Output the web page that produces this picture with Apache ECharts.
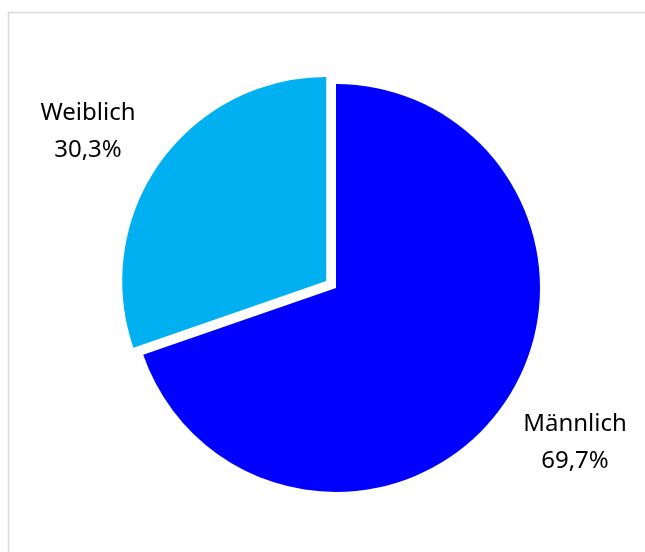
<!DOCTYPE html>
<html>
<head>
<meta charset="utf-8">
<script src="https://cdn.jsdelivr.net/npm/echarts@6/dist/echarts.min.js"></script>
<style>
  html, body { margin: 0; padding: 0; background: #ffffff; }
  #chart { width: 645px; height: 552px; }
</style>
</head>
<body>
<div id="chart"></div>
<script>
// Gender split
const categories = ['Männlich', 'Weiblich'];
const shares = [69.7, 30.3];
const colors = ['#0000FF', '#00B0F0'];
const explodedSlice = 'Weiblich';

// Label anchor points (centre of each two-line label)
const labelAnchors = {
  'Männlich': [575, 443],
  'Weiblich': [88, 132]
};

const pieCenter = [336, 288];
const pieRadius = 204;
const explodeDistance = 12;

const chart = echarts.init(document.getElementById('chart'), null, { renderer: 'canvas' });

// Direction of the exploded slice: pie starts at 12 o'clock and runs clockwise,
// so the last slice sits counter-clockwise from the top.
const total = shares.reduce((s, v) => s + v, 0);
const explodedIdx = categories.indexOf(explodedSlice);
const before = shares.slice(0, explodedIdx).reduce((s, v) => s + v, 0);
const midFrac = (before + shares[explodedIdx] / 2) / total;
const midRad = (90 - midFrac * 360) * Math.PI / 180;
const explodedCenter = [
  pieCenter[0] + explodeDistance * Math.cos(midRad),
  pieCenter[1] - explodeDistance * Math.sin(midRad)
];

const labelStyle = {
  show: true,
  position: 'inside',
  overflow: 'none',
  formatter: p => p.name + '\n' + p.value.toFixed(1).replace('.', ',') + '%',
  fontFamily: '"Noto Sans", "Open Sans", sans-serif',
  fontSize: 24,
  lineHeight: 37,
  color: '#000000',
  align: 'center',
  verticalAlign: 'middle'
};

// One layer per position: each layer shows only its own slices
function layer(showExploded, center) {
  return {
    type: 'pie',
    center: center,
    radius: [0, pieRadius],
    startAngle: 90,
    clockwise: true,
    silent: true,
    emphasis: { disabled: true },
    itemStyle: { borderWidth: 0 },
    label: labelStyle,
    labelLine: { show: false },
    labelLayout: function (params) {
      const a = labelAnchors[categories[params.dataIndex]];
      return { x: a[0], y: a[1], align: 'center', verticalAlign: 'middle' };
    },
    data: categories.map((name, i) => {
      const visible = (name === explodedSlice) === showExploded;
      return {
        name: name,
        value: shares[i],
        itemStyle: { color: visible ? colors[i] : 'rgba(0,0,0,0)' },
        label: { show: visible }
      };
    })
  };
}

chart.setOption({
  animation: false,
  backgroundColor: '#ffffff',
  graphic: [{
    type: 'rect',
    shape: { x: 8.5, y: 12.5, width: 700, height: 600 },
    style: { fill: 'none', stroke: '#d9d9d9', lineWidth: 1.5 },
    silent: true
  }],
  series: [
    layer(false, pieCenter),
    layer(true, explodedCenter)
  ]
});
</script>
</body>
</html>
